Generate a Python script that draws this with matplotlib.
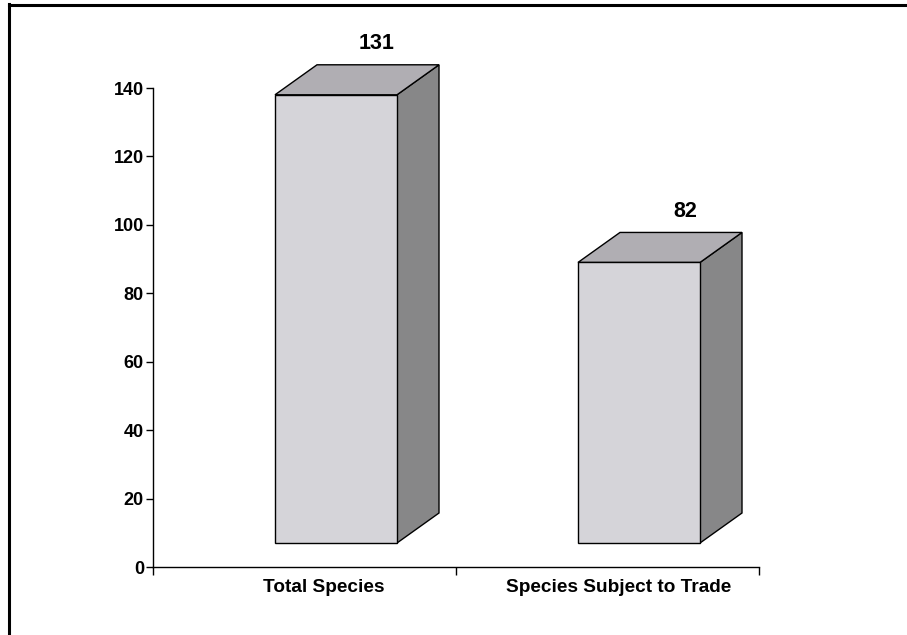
import matplotlib
matplotlib.use("Agg")
import matplotlib.pyplot as plt
from matplotlib.patches import Polygon
from matplotlib.lines import Line2D
from matplotlib.transforms import offset_copy

categories = ["Total Species", "Species Subject to Trade"]
values = [131, 82]
yticks = [0, 20, 40, 60, 80, 100, 120, 140]

plt.rcParams['font.family'] = ['Liberation Sans', 'DejaVu Sans']
plt.rcParams['font.weight'] = 'bold'

W, H = 907, 635
fig = plt.figure(figsize=(W / 100, H / 100), dpi=100)
fig.patch.set_facecolor('white')

x0, x1 = 153, 759
y0, y1 = 567, 88
ax = fig.add_axes([x0 / W, (H - y0) / H, (x1 - x0) / W, (y0 - y1) / H])
ax.set_xlim(0, 2)
ax.set_ylim(0, 140)
ax.patch.set_alpha(0)

for s in ['top', 'right']:
    ax.spines[s].set_visible(False)
for s in ['left', 'bottom']:
    ax.spines[s].set_linewidth(1.0)
    ax.spines[s].set_color('black')

ax.set_yticks(yticks)
ax.set_yticklabels([str(v) for v in yticks], fontsize=13, fontweight='bold')
ax.tick_params(axis='y', direction='out', length=5, width=1, pad=1.5)
ax.set_xticks([0, 1, 2])
ax.set_xticklabels([])
ax.tick_params(axis='x', which='major', direction='out', length=6, width=1)

# category labels (Excel places them slightly right of the category centre)
label_shift_px = [19, 11]
for i, (cat, sh) in enumerate(zip(categories, label_shift_px)):
    tr = offset_copy(ax.transData, fig=fig, x=sh, y=-12, units='dots')
    ax.text(i + 0.5, 0, cat, transform=tr, ha='center', va='top',
            fontsize=13.7, fontweight='bold', clip_on=False)

front_c = '#d5d4d9'
top_c = '#b0aeb3'
side_c = '#878788'

px_x = (x1 - x0) / 2.0
px_y = (y0 - y1) / 140.0
off_left = 122 / px_x
bw = 122 / px_x
ddx = 42 / px_x
ddy = 30 / px_y
base = 24 / px_y

value_shift_px = [-1, 4]
for i, v in enumerate(values):
    L = i + off_left
    R = L + bw
    B = base
    T = base + v
    front = Polygon([(L, B), (R, B), (R, T), (L, T)], closed=True,
                    facecolor=front_c, edgecolor='black', linewidth=1, clip_on=False, zorder=3)
    top = Polygon([(L, T), (R, T), (R + ddx, T + ddy), (L + ddx, T + ddy)], closed=True,
                  facecolor=top_c, edgecolor='black', linewidth=1, clip_on=False, zorder=3)
    side = Polygon([(R, B), (R + ddx, B + ddy), (R + ddx, T + ddy), (R, T)], closed=True,
                   facecolor=side_c, edgecolor='black', linewidth=1, clip_on=False, zorder=3)
    for p in (side, top, front):
        ax.add_patch(p)
    ax.annotate(str(v), xy=(L + ddx + bw / 2, T + ddy), xytext=(value_shift_px[i], 15.5),
                textcoords='offset pixels', ha='center', va='baseline',
                fontsize=15.5, fontweight='bold', annotation_clip=False)

# outer border (left and top only)
fig.add_artist(Line2D([9 / W, 9 / W], [0, 1 - 4 / H], color='black', linewidth=2.2,
                      transform=fig.transFigure, solid_capstyle='projecting'))
fig.add_artist(Line2D([9 / W, 1], [1 - 5 / H, 1 - 5 / H], color='black', linewidth=2.2,
                      transform=fig.transFigure, solid_capstyle='projecting'))

fig.savefig('out.png', dpi=100, facecolor='white')
